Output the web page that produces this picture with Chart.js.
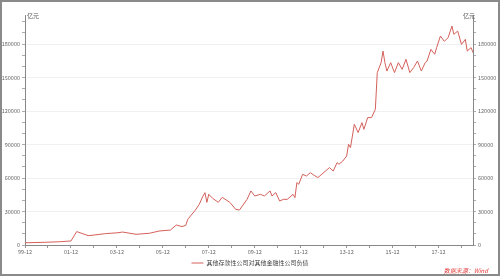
<!DOCTYPE html>
<html>
<head>
<meta charset="utf-8">
<script src="https://cdn.jsdelivr.net/npm/chart.js@4/dist/chart.umd.min.js"></script>
<style>
html,body{margin:0;padding:0;background:#fff;}
#wrap{position:relative;width:500px;height:276px;}
</style>
</head>
<body>
<div id="wrap"><canvas id="c" width="500" height="276"></canvas></div>
<script>
// Data (亿元)
const months = ["1999-12","2000-10","2001-06","2001-12","2002-03","2002-09","2002-11","2003-06","2003-12","2004-03",
"2004-10","2005-05","2005-10","2006-04","2006-07","2006-10","2006-12","2007-01","2007-05","2007-07",
"2007-09","2007-10","2007-11","2007-12","2008-02","2008-05","2008-07","2008-11","2009-02","2009-04",
"2009-08","2009-10","2009-12","2010-03","2010-05","2010-08","2010-09","2010-11","2011-01","2011-03",
"2011-05","2011-08","2011-09","2011-10","2011-11","2012-01","2012-03","2012-05","2012-07","2012-09",
"2013-01","2013-03","2013-05","2013-07","2013-08","2013-10","2013-12","2014-01","2014-02","2014-04",
"2014-06","2014-08","2014-09","2014-11","2015-01","2015-03","2015-04","2015-06","2015-07","2015-08",
"2015-09","2015-11","2016-01","2016-03","2016-05","2016-07","2016-09","2016-11","2017-01","2017-03",
"2017-05","2017-06","2017-08","2017-10","2017-11","2018-01","2018-03","2018-05","2018-07","2018-08",
"2018-10","2018-12","2019-02","2019-03","2019-05","2019-06"];
const values = [2000,2400,2900,3600,12000,8400,8700,10200,10900,11600,
9600,10500,12500,13400,17900,16500,17600,23000,31300,36400,
43900,46900,38200,45400,41800,38200,42700,38200,32000,31300,
40900,48400,43900,45400,43900,48400,43900,46900,39400,40900,
40900,45400,42400,55900,54400,63300,61800,64800,62400,60400,
66300,69300,66300,73800,72300,75200,79700,90200,87200,108100,
100700,109600,103600,114100,114100,121500,154400,163300,173700,163300,
155800,163300,154400,163300,157300,166300,154400,158900,164800,155800,
163300,164800,175200,170800,176800,187200,182400,185700,196100,188700,
191600,179700,184200,173700,176800,172300];
const seriesName = "其他存款性公司对其他金融性公司负债";
const unitLabel = "亿元";
const sourceText = "数据来源：Wind";
const yTickValues = [0,10000,20000,30000,40000,50000,60000,70000,80000,90000,100000,110000,120000,130000,140000,150000,160000,170000,180000,190000,200000];
const xTickMonths = ["1999-12","2000-12","2001-12","2002-12","2003-12","2004-12","2005-12","2006-12","2007-12","2008-12","2009-12","2010-12","2011-12","2012-12","2013-12","2014-12","2015-12","2016-12","2017-12","2018-12"];

function monthIndex(s){ const [y,m]=s.split('-').map(Number); return (y-1999)*12+(m-12); }
function monthLabel(i){ const y=1999+Math.floor((i+11)/12); const m=((i+11)%12)+1; return String(y%100).padStart(2,'0')+'-'+String(m).padStart(2,'0'); }

const FONT = '"Noto Sans CJK SC", "Noto Sans", sans-serif';
const points = months.map((m,i)=>({x:monthIndex(m), y:values[i]}));
const labeledX = new Set(xTickMonths.filter((m,i)=>i%2===0).map(monthIndex));

function yAxis(pos){
  return {
    position: pos, min:0, max:206000,
    afterBuildTicks: a => { a.ticks = yTickValues.map(v=>({value:v})); },
    afterFit: a => { a.width = pos==='left' ? 25 : 27; },
    ticks: { autoSkip:false, padding:2, color:'#666', font:{size:5.5, family:FONT},
      callback: v => (v%30000===0 ? String(v) : '') },
    grid: { drawOnChartArea: pos==='left', tickLength:3, tickWidth:0.8,
      color: c => (c.tick && c.tick.value%30000===0 && c.tick.value>0) ? '#f0f0f0' : 'rgba(0,0,0,0)',
      tickColor:'#999' },
    border: { color:'#888', width:1 }
  };
}

const decor = {
  id:'decor',
  afterDraw(chart){
    const ctx=chart.ctx, a=chart.chartArea;
    ctx.save();
    ctx.fillStyle='#555'; ctx.font='6px '+FONT; ctx.textBaseline='middle';
    ctx.textAlign='left'; ctx.fillText(unitLabel, a.left+2, a.top+1);
    ctx.textAlign='right'; ctx.fillText(unitLabel, a.right+2, a.top+1);
    ctx.fillStyle='#e03c3c'; ctx.font='italic 6px '+FONT; ctx.textAlign='right';
    ctx.fillText(sourceText, 488, 271);
    ctx.strokeStyle='#8a8a8a'; ctx.lineWidth=2; ctx.strokeRect(1,1,498,274);
    ctx.restore();
  }
};

new Chart(document.getElementById('c'), {
  type:'line',
  data:{ datasets:[{ label:seriesName, data:points, borderColor:'#d4605a', backgroundColor:'#d4605a',
    borderWidth:1, pointRadius:0, tension:0, yAxisID:'y' }] },
  options:{
    responsive:false, animation:false, devicePixelRatio:1,
    layout:{ padding:{ top:15, left:0, right:0, bottom:0 } },
    plugins:{
      legend:{ position:'bottom', labels:{ usePointStyle:true, pointStyle:'line', pointStyleWidth:12, boxHeight:6,
        padding:3, color:'#444', font:{size:6, family:FONT} } },
      tooltip:{ enabled:false }
    },
    scales:{
      x:{ type:'linear', min:0, max:234,
        afterBuildTicks: a => { a.ticks = xTickMonths.map(m=>({value:monthIndex(m)})); },
        afterFit: a => { a.height = 12; },
        ticks:{ autoSkip:false, maxRotation:0, padding:1, color:'#666', font:{size:5.5, family:FONT},
          callback: v => (labeledX.has(v) ? monthLabel(v) : '') },
        grid:{ drawOnChartArea:false, tickLength:3, tickColor:'#999' },
        border:{ color:'#888', width:1 }
      },
      y: yAxis('left'),
      y2: yAxis('right')
    }
  },
  plugins:[decor]
});
</script>
</body>
</html>
